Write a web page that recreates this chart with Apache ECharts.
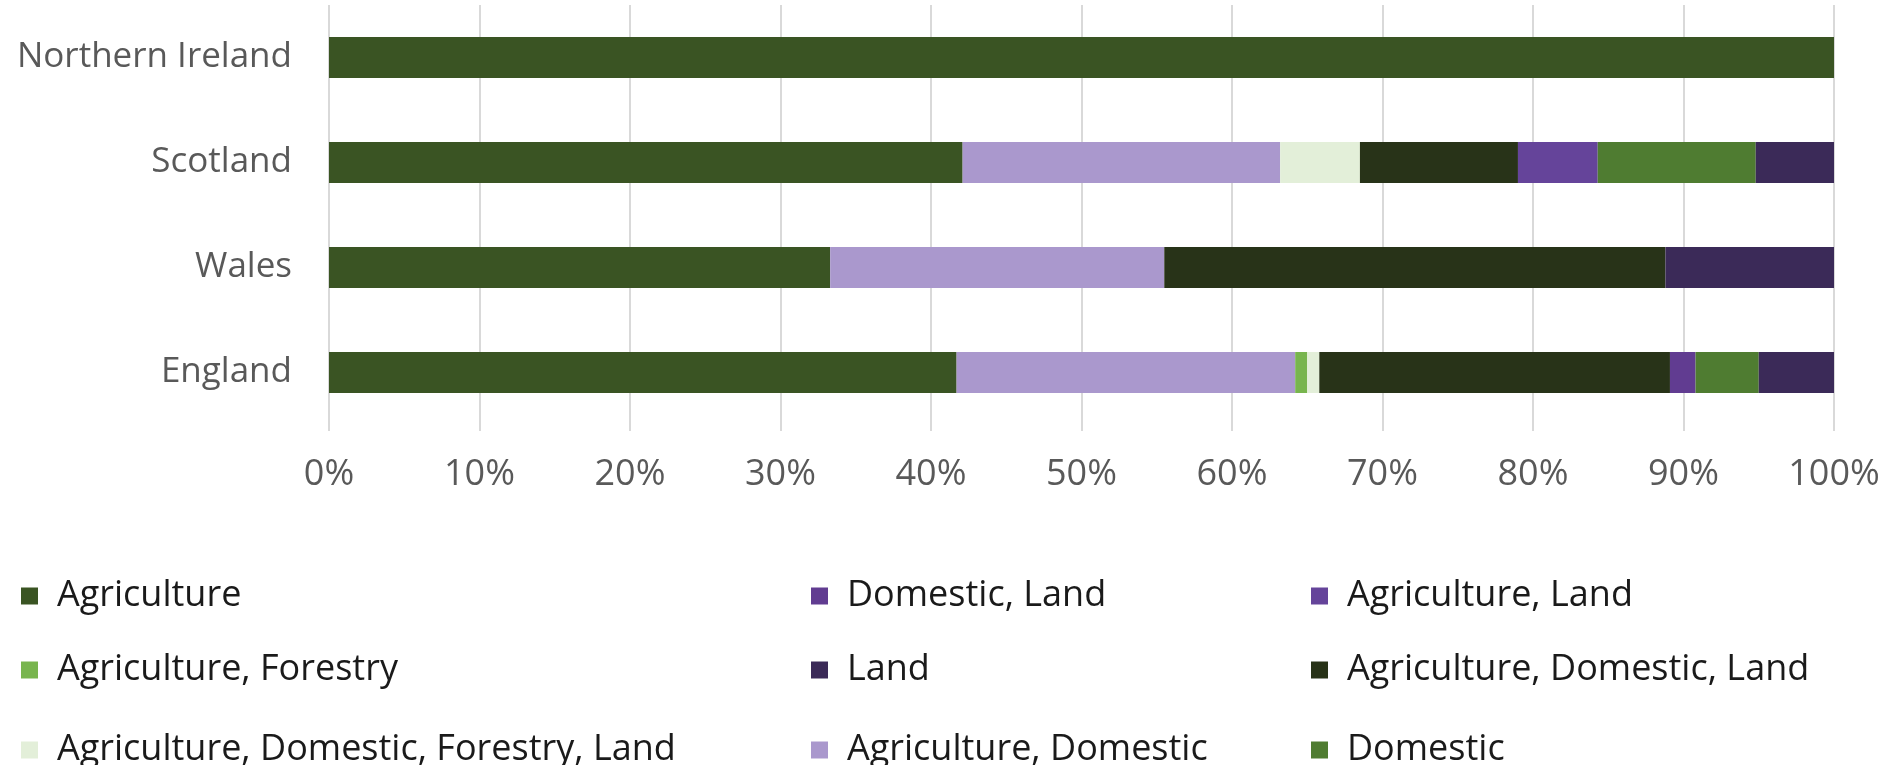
<!DOCTYPE html>
<html>
<head>
<meta charset="utf-8">
<script src="https://cdn.jsdelivr.net/npm/echarts@6/dist/echarts.min.js"></script>
<style>
  html, body { margin: 0; padding: 0; background: #ffffff; }
  #chart { width: 1884px; height: 765px; }
</style>
</head>
<body>
<div id="chart"></div>
<script>
// Categories (bottom to top on the category axis)
const categories = ['England', 'Wales', 'Scotland', 'Northern Ireland'];
const xTicks = ['0%', '10%', '20%', '30%', '40%', '50%', '60%', '70%', '80%', '90%', '100%'];

// Share of each combination (%), order: England, Wales, Scotland, Northern Ireland
const agriculture            = [41.7, 33.3, 42.1, 100];
const agricultureDomestic    = [22.5, 22.2, 21.1, 0];
const agricultureForestry    = [0.8, 0, 0, 0];
const agriDomForestryLand    = [0.8, 0, 5.3, 0];
const agriDomesticLand       = [23.3, 33.3, 10.5, 0];
const agricultureLand        = [0, 0, 5.3, 0];
const domesticLand           = [1.7, 0, 0, 0];
const domestic               = [4.2, 0, 10.5, 0];
const land                   = [5.0, 11.2, 5.2, 0];

const seriesDefs = [
  { name: 'Agriculture', data: agriculture, color: '#3a5423' },
  { name: 'Agriculture, Domestic', data: agricultureDomestic, color: '#aa98cd' },
  { name: 'Agriculture, Forestry', data: agricultureForestry, color: '#78b54e' },
  { name: 'Agriculture, Domestic, Forestry, Land', data: agriDomForestryLand, color: '#e3efd9' },
  { name: 'Agriculture, Domestic, Land', data: agriDomesticLand, color: '#283318' },
  { name: 'Agriculture, Land', data: agricultureLand, color: '#65449a' },
  { name: 'Domestic, Land', data: domesticLand, color: '#613c91' },
  { name: 'Domestic', data: domestic, color: '#4f7c31' },
  { name: 'Land', data: land, color: '#3b2a58' }
];

// Legend grid: rows x columns
const legendRows = [
  ['Agriculture', 'Domestic, Land', 'Agriculture, Land'],
  ['Agriculture, Forestry', 'Land', 'Agriculture, Domestic, Land'],
  ['Agriculture, Domestic, Forestry, Land', 'Agriculture, Domestic', 'Domestic']
];
const legendLefts = [21, 811, 1311];
const legendTops = [575, 649, 729];

const FONT = "'Open Sans', 'Noto Sans', sans-serif";

const chart = echarts.init(document.getElementById('chart'), null, { renderer: 'canvas' });

const legends = [];
legendRows.forEach(function (row, r) {
  row.forEach(function (name, c) {
    legends.push({
      orient: 'horizontal',
      left: legendLefts[c],
      top: legendTops[r],
      padding: 0,
      data: [name],
      icon: 'rect',
      itemWidth: 17,
      itemHeight: 17,
      selectedMode: false,
      textStyle: {
        color: '#1a1a1a',
        fontFamily: FONT,
        fontSize: 36,
        lineHeight: 42,
        padding: [0, 0, 0, 14]
      }
    });
  });
});

const option = {
  backgroundColor: '#ffffff',
  animation: false,
  grid: { left: 329, right: 50, top: 5, height: 420, containLabel: false },
  xAxis: {
    type: 'value',
    min: 0,
    max: 100,
    interval: 10,
    axisLine: { show: false },
    axisTick: { show: true, length: 6, lineStyle: { color: '#d9d9d9', width: 2 } },
    splitLine: { show: true, lineStyle: { color: '#d9d9d9', width: 2 } },
    axisLabel: {
      margin: 32,
      color: '#595959',
      fontFamily: FONT,
      fontSize: 36,
      formatter: function (v) { return xTicks[Math.round(v / 10)]; }
    }
  },
  yAxis: {
    type: 'category',
    data: categories,
    axisLine: { show: false },
    axisTick: { show: false },
    axisLabel: {
      margin: 37,
      color: '#595959',
      fontFamily: FONT,
      fontSize: 35
    }
  },
  legend: legends,
  series: seriesDefs.map(function (s) {
    return {
      name: s.name,
      type: 'bar',
      stack: 'total',
      barWidth: 41,
      data: s.data,
      itemStyle: { color: s.color },
      emphasis: { disabled: true }
    };
  })
};

chart.setOption(option);
</script>
</body>
</html>
